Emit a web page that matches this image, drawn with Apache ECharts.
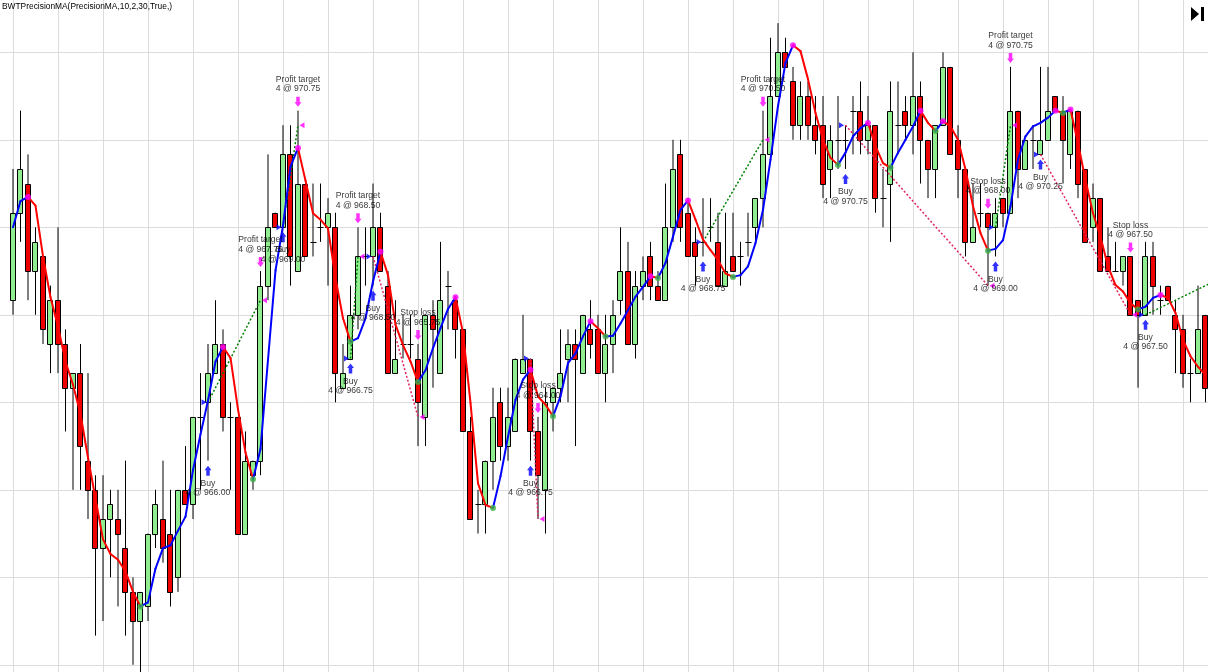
<!DOCTYPE html>
<html>
<head>
<meta charset="utf-8">
<title>BWTPrecisionMA</title>
<script src="https://cdn.jsdelivr.net/npm/echarts@6/dist/echarts.min.js"></script>
<style>
  html, body { margin: 0; padding: 0; background: #fff; }
  #chart { width: 1208px; height: 672px; }
</style>
</head>
<body>
<div id="chart"></div>
<script>
// price bars, one value per bar index (0 = leftmost bar)
var opens = [
  967.75, 969.25, 969.75, 968.25, 968.5, 967.0, 967.75, 967.0, 966.25, 966.5,
  965.0, 964.5, 963.5, 964.0, 964.0, 963.5, 962.75, 962.25, 962.5, 963.75,
  964.0, 963.75, 963.0, 964.5, 964.25, 965.75, 966.0, 966.5, 967.0, 965.75,
  965.75, 963.75, 964.75, 965.0, 968.0, 969.25, 969.0, 970.25, 968.25, 969.75,
  968.75, 969.0, 969.0, 969.0, 966.25, 966.75, 967.5, 968.5, 968.5, 969.0,
  968.0, 966.5, 967.0, 967.0, 966.75, 965.75, 967.5, 966.5, 968.0, 967.75,
  967.25, 965.5, 964.25, 964.25, 965.0, 966.0, 965.25, 965.5, 966.5, 966.75,
  965.5, 964.5, 966.0, 966.25, 966.75, 967.0, 966.5, 967.25, 967.25, 966.5,
  967.0, 967.75, 968.25, 967.0, 968.0, 968.5, 968.0, 967.75, 969.0, 970.25,
  969.25, 968.75, 968.75, 969.0, 968.75, 968.0, 968.5, 968.5, 968.75, 969.0,
  969.5, 970.25, 971.25, 972.0, 971.5, 970.75, 971.25, 970.75, 970.75, 970.0,
  970.5, 970.5, 971.0, 971.0, 970.5, 970.75, 969.5, 969.75, 970.75, 971.0,
  970.75, 971.25, 970.5, 970.0, 970.75, 971.75, 970.5, 970.0, 968.75, 969.25,
  969.25, 969.0, 969.5, 969.25, 971.0, 970.0, 970.5, 970.25, 970.5, 971.25,
  971.0, 970.25, 971.0, 970.0, 969.0, 969.5, 968.5, 968.25, 968.25, 968.5,
  967.75, 967.5, 968.5, 967.75, 968.0, 967.5, 967.25, 966.5, 966.5, 967.5
];
var highs = [
  970.0, 971.0, 970.25, 969.0, 968.5, 968.0, 969.0, 967.25, 966.5, 967.0,
  966.5, 964.75, 964.75, 964.5, 964.5, 965.0, 963.0, 962.75, 963.75, 964.5,
  965.0, 964.5, 964.5, 965.25, 965.75, 966.5, 967.0, 967.75, 967.25, 966.0,
  965.75, 965.5, 965.0, 968.25, 970.25, 969.25, 970.75, 970.75, 971.0, 969.75,
  969.75, 969.75, 969.5, 969.25, 967.0, 968.0, 969.0, 969.0, 969.75, 969.25,
  968.25, 967.75, 967.5, 967.5, 967.0, 967.5, 967.75, 968.75, 968.25, 967.75,
  967.25, 965.75, 964.5, 965.0, 966.25, 966.25, 966.25, 966.75, 967.5, 966.75,
  965.75, 966.25, 966.25, 967.25, 967.25, 967.25, 967.5, 967.75, 967.5, 967.5,
  967.75, 969.0, 968.75, 968.25, 968.5, 968.75, 968.25, 969.75, 970.5, 970.5,
  969.5, 969.0, 969.5, 969.5, 969.25, 969.25, 969.25, 968.75, 969.25, 969.5,
  971.0, 972.25, 972.5, 972.25, 971.75, 971.5, 971.5, 971.25, 971.25, 970.75,
  971.25, 970.75, 971.25, 971.5, 971.25, 970.75, 970.0, 971.5, 971.5, 971.25,
  972.0, 971.5, 970.5, 970.75, 972.0, 971.75, 970.75, 970.0, 969.75, 969.75,
  969.25, 969.5, 969.5, 971.75, 971.0, 970.5, 970.75, 971.75, 971.75, 971.25,
  971.25, 971.0, 971.0, 970.0, 969.75, 969.5, 969.0, 968.75, 968.5, 968.5,
  967.75, 968.75, 968.75, 968.0, 968.0, 967.75, 967.5, 966.75, 968.0, 967.5
];
var lows = [
  967.5, 968.75, 967.75, 967.5, 967.0, 966.5, 966.5, 965.5, 964.5, 964.5,
  964.0, 962.0, 962.25, 963.0, 962.5, 962.0, 961.5, 961.25, 962.25, 963.5,
  963.25, 962.5, 962.75, 964.25, 964.0, 964.5, 965.0, 966.5, 965.5, 964.5,
  963.75, 963.75, 964.5, 964.75, 967.75, 969.0, 969.0, 968.0, 968.25, 968.5,
  968.5, 968.75, 968.0, 966.0, 966.25, 966.75, 967.25, 968.0, 968.0, 968.25,
  966.5, 966.5, 966.75, 966.75, 965.25, 965.25, 966.25, 966.5, 967.25, 966.75,
  965.5, 964.0, 963.75, 963.75, 964.5, 965.0, 965.0, 965.5, 966.5, 965.0,
  964.0, 963.75, 965.5, 966.0, 966.0, 965.25, 966.5, 966.75, 966.5, 966.0,
  966.5, 967.5, 967.0, 966.75, 967.75, 967.75, 967.75, 967.75, 968.75, 968.75,
  968.5, 968.0, 968.5, 968.75, 968.0, 968.0, 968.25, 968.0, 968.5, 968.75,
  969.0, 970.25, 971.25, 971.75, 970.5, 970.5, 970.5, 970.25, 969.5, 969.5,
  970.0, 970.0, 970.25, 970.25, 970.25, 969.25, 969.0, 968.75, 970.25, 970.5,
  970.25, 969.75, 969.5, 969.5, 970.75, 970.25, 969.5, 968.5, 968.75, 969.0,
  968.0, 968.5, 969.0, 969.25, 969.5, 970.0, 970.0, 970.25, 970.5, 971.0,
  969.75, 970.0, 969.5, 968.75, 968.75, 968.25, 968.25, 968.25, 968.0, 967.5,
  966.25, 967.5, 967.5, 967.5, 967.75, 966.5, 966.25, 966.0, 966.5, 966.0
];
var closes = [
  969.25, 970.0, 968.25, 968.75, 967.25, 967.75, 967.0, 966.25, 966.5, 965.25,
  964.5, 963.5, 964.0, 964.25, 963.75, 962.75, 962.25, 962.75, 963.75, 964.25,
  963.5, 962.75, 964.5, 964.25, 965.75, 965.75, 966.5, 967.0, 965.75, 965.75,
  963.75, 965.0, 965.0, 968.0, 969.0, 969.0, 970.25, 968.5, 969.75, 968.5,
  968.75, 969.0, 969.25, 966.5, 966.5, 967.5, 968.5, 968.5, 969.0, 968.25,
  966.5, 966.75, 967.0, 967.0, 966.0, 967.5, 967.25, 967.75, 968.0, 967.25,
  965.5, 964.0, 964.25, 965.0, 965.75, 965.25, 965.75, 966.75, 966.75, 965.5,
  964.75, 966.0, 966.25, 966.5, 967.0, 966.75, 967.5, 967.0, 966.5, 967.0,
  967.5, 968.25, 967.0, 968.0, 968.25, 968.0, 967.75, 969.0, 970.0, 969.0,
  968.5, 968.5, 968.75, 969.0, 968.0, 968.25, 968.25, 968.5, 968.75, 969.5,
  970.25, 971.25, 972.0, 971.75, 970.75, 971.25, 970.75, 970.5, 969.75, 970.5,
  970.5, 970.5, 971.0, 970.5, 970.75, 969.5, 969.5, 971.0, 970.75, 970.75,
  971.25, 970.5, 970.0, 970.75, 971.75, 970.25, 970.0, 968.75, 969.0, 969.25,
  969.0, 969.25, 969.25, 971.0, 970.0, 970.5, 970.5, 970.5, 971.0, 971.0,
  970.5, 971.0, 969.75, 968.75, 969.5, 968.25, 968.25, 968.25, 968.5, 967.5,
  967.5, 968.5, 968.0, 967.75, 967.75, 967.25, 966.5, 966.5, 967.25, 966.25
];
// PrecisionMA(10,2,30) value at each bar
var maValues = [
  969.0, 969.45, 969.52, 969.37, 968.5, 967.8, 967.3, 966.7, 966.3, 965.8,
  965.05, 964.35, 963.65, 963.4, 963.3, 963.1, 962.75, 962.5, 962.57, 963.15,
  963.5, 963.55, 963.8, 964.04, 964.84, 965.45, 966.03, 966.7, 966.95, 966.76,
  965.88, 965.14, 964.68, 965.2, 966.73, 968.26, 969.03, 970.04, 970.36, 969.8,
  969.24, 969.13, 968.98, 968.13, 967.44, 967.04, 967.1, 967.44, 968.07, 968.58,
  968.18, 967.33, 966.98, 966.7, 966.35, 966.55, 966.93, 967.27, 967.6, 967.8,
  967.19, 965.99, 964.61, 964.24, 964.19, 964.73, 965.41, 966.04, 966.39, 966.56,
  966.1, 965.96, 965.76, 966.1, 966.67, 966.84, 967.13, 967.39, 967.27, 967.13,
  967.14, 967.35, 967.58, 967.81, 967.98, 968.16, 968.13, 968.39, 968.84, 969.3,
  969.46, 969.13, 968.79, 968.61, 968.44, 968.21, 968.15, 968.18, 968.33, 968.73,
  969.3, 970.16, 971.08, 971.82, 972.12, 972.02, 971.54, 970.96, 970.5, 970.19,
  970.07, 970.28, 970.56, 970.7, 970.79, 970.39, 970.1, 970.02, 970.28, 970.5,
  970.73, 971.0, 970.79, 970.65, 970.82, 970.73, 970.5, 969.99, 969.36, 968.9,
  968.6, 968.63, 968.78, 969.36, 970.16, 970.56, 970.73, 970.79, 970.88, 971.0,
  970.96, 971.02, 970.44, 969.81, 969.24, 968.84, 968.33, 968.01, 967.9, 967.7,
  967.59, 967.64, 967.79, 967.84, 967.79, 967.53, 967.07, 966.79, 966.61, 966.47
];

// executions (long only)
var entryBars = [26, 36, 45, 48, 69, 92, 111, 131, 137, 151];
var entryPrices = [966.00, 969.00, 966.75, 968.50, 966.75, 968.75, 970.75, 969.00, 970.25, 967.50];
var exitBars = [33, 38, 46, 54, 70, 100, 130, 133, 149, null];
var exitPrices = [967.75, 970.75, 968.50, 965.75, 964.00, 970.50, 968.00, 970.75, 967.50, null];
var exitNames = ['Profit target', 'Profit target', 'Profit target', 'Stop loss', 'Stop loss',
  'Profit target', 'Stop loss', 'Profit target', 'Stop loss', null];
var quantity = 4;
// the last trade is still open, its line runs off the right edge toward this point
var openTradeEnd = [175, 969.0];

var FONT = "'Liberation Sans', Arial, sans-serif";

var barData = opens.map(function (o, i) {
  return [i, o, closes[i], lows[i], highs[i]];
});

var maSegments = [];
for (var i = 0; i < maValues.length - 1; i++) {
  maSegments.push([i, maValues[i], i + 1, maValues[i + 1]]);
}
var maPeaks = [];
var maTroughs = [];
for (i = 1; i < maValues.length - 1; i++) {
  if (maValues[i] > maValues[i - 1] && maValues[i] >= maValues[i + 1]) maPeaks.push([i, maValues[i]]);
  else if (maValues[i] < maValues[i - 1] && maValues[i] <= maValues[i + 1]) maTroughs.push([i, maValues[i]]);
}

var tradeLines = entryBars.map(function (b, k) {
  var xb = exitBars[k] != null ? exitBars[k] : openTradeEnd[0];
  var xp = exitPrices[k] != null ? exitPrices[k] : openTradeEnd[1];
  return [b, entryPrices[k], xb, xp];
});

var buyMarks = entryBars.map(function (b, k) {
  return { value: [b, lows[b]], text: 'Buy\n' + quantity + ' @ ' + entryPrices[k].toFixed(2) };
});
var entryMarks = entryBars.map(function (b, k) { return [b, entryPrices[k]]; });
var exitMarks = [];
var exitFills = [];
exitBars.forEach(function (b, k) {
  if (b == null) return;
  exitMarks.push({ value: [b, highs[b]], text: exitNames[k] + '\n' + quantity + ' @ ' + exitPrices[k].toFixed(2) });
  exitFills.push([b, exitPrices[k]]);
});

function renderBar(params, api) {
  var idx = api.value(0);
  var o = api.value(1), c = api.value(2);
  var pH = api.coord([idx, api.value(4)]);
  var pL = api.coord([idx, api.value(3)]);
  var pO = api.coord([idx, o]);
  var pC = api.coord([idx, c]);
  var x = pH[0];
  var left = Math.floor(x) - 2.5;
  var kids = [{
    type: 'line',
    shape: { x1: x, y1: pH[1], x2: x, y2: pL[1] },
    style: { stroke: '#000', lineWidth: 1 }
  }];
  var top = Math.round(Math.min(pO[1], pC[1])) + 0.5;
  var bot = Math.round(Math.max(pO[1], pC[1])) + 0.5;
  if (bot - top < 1) {
    kids.push({
      type: 'line',
      shape: { x1: left, y1: top, x2: left + 6, y2: top },
      style: { stroke: '#000', lineWidth: 1 }
    });
  } else {
    kids.push({
      type: 'rect',
      shape: { x: left, y: top, width: 5, height: bot - top },
      style: { fill: c > o ? '#90ee90' : '#ee0000', stroke: '#000', lineWidth: 1 }
    });
  }
  return { type: 'group', children: kids };
}

var upArrow = 'path://M3,0 L6,4.5 L4.5,4.5 L4.5,10 L1.5,10 L1.5,4.5 L0,4.5 Z';
var downArrow = 'path://M1.5,0 L4.5,0 L4.5,5.5 L6,5.5 L3,10 L0,5.5 L1.5,5.5 Z';

var chart = echarts.init(document.getElementById('chart'));
chart.setOption({
  animation: false,
  backgroundColor: '#fff',
  title: {
    text: 'BWTPrecisionMA(PrecisionMA,10,2,30,True,)',
    left: 2,
    top: 3,
    padding: 0,
    textStyle: { fontSize: 8.4, fontWeight: 'normal', color: '#000', fontFamily: FONT }
  },
  // the plot area runs past the window edges, so bars line up with the grid
  grid: { left: -32, right: -20, top: -35.2, bottom: -80.3, outerBoundsMode: 'none', containLabel: false },
  xAxis: {
    type: 'value',
    min: -6,
    max: 162,
    interval: 6,
    axisLine: { show: false },
    axisTick: { show: false },
    axisLabel: { show: false },
    splitLine: { show: true, lineStyle: { color: '#dcdcdc', width: 1 } }
  },
  yAxis: {
    type: 'value',
    min: 960,
    max: 973.5,
    interval: 1.5,
    axisLine: { show: false },
    axisTick: { show: false },
    axisLabel: { show: false },
    splitLine: { show: true, lineStyle: { color: '#dcdcdc', width: 1 } }
  },
  graphic: [
    { type: 'polygon', shape: { points: [[1191, 7], [1191, 21], [1199, 14]] }, style: { fill: '#000' } },
    { type: 'rect', shape: { x: 1201, y: 7, width: 3, height: 14 }, style: { fill: '#000' } }
  ],
  series: [
    {
      name: 'bars',
      type: 'custom',
      renderItem: renderBar,
      encode: { x: 0, y: [1, 2, 3, 4] },
      data: barData,
      z: 2
    },
    {
      name: 'trades',
      type: 'custom',
      renderItem: function (params, api) {
        var a = api.coord([api.value(0), api.value(1)]);
        var b = api.coord([api.value(2), api.value(3)]);
        var win = api.value(3) > api.value(1);
        return {
          type: 'line',
          shape: { x1: a[0], y1: a[1], x2: b[0], y2: b[1] },
          style: { stroke: win ? '#008000' : '#e0245e', lineWidth: 1.5, lineDash: [2, 2] }
        };
      },
      encode: { x: [0, 2], y: [1, 3] },
      data: tradeLines,
      z: 3
    },
    {
      name: 'PrecisionMA',
      type: 'custom',
      renderItem: function (params, api) {
        var a = api.coord([api.value(0), api.value(1)]);
        var b = api.coord([api.value(2), api.value(3)]);
        return {
          type: 'line',
          shape: { x1: a[0], y1: a[1], x2: b[0], y2: b[1] },
          style: { stroke: api.value(3) >= api.value(1) ? '#0000ff' : '#ff0000', lineWidth: 2, lineCap: 'round' }
        };
      },
      encode: { x: [0, 2], y: [1, 3] },
      data: maSegments,
      z: 4
    },
    {
      name: 'ma peaks',
      type: 'scatter',
      symbol: 'circle',
      symbolSize: 6,
      itemStyle: { color: '#ff00ff' },
      data: maPeaks,
      z: 5
    },
    {
      name: 'ma troughs',
      type: 'scatter',
      symbol: 'circle',
      symbolSize: 6,
      itemStyle: { color: '#3cb043' },
      data: maTroughs,
      z: 5
    },
    {
      name: 'entry fills',
      type: 'scatter',
      symbol: 'triangle',
      symbolSize: [6, 5],
      symbolRotate: -90,
      symbolOffset: [-4, 0],
      itemStyle: { color: '#0000ff' },
      data: entryMarks,
      z: 6
    },
    {
      name: 'exit fills',
      type: 'scatter',
      symbol: 'triangle',
      symbolSize: [6, 5],
      symbolRotate: 90,
      symbolOffset: [4, 0],
      itemStyle: { color: '#ff00ff' },
      data: exitFills,
      z: 6
    },
    {
      name: 'buy',
      type: 'scatter',
      symbol: upArrow,
      symbolSize: [7, 10],
      symbolOffset: [0, 10],
      itemStyle: { color: '#0000ff' },
      label: {
        show: true,
        position: 'bottom',
        distance: 3,
        formatter: function (p) { return p.data.text; },
        fontSize: 8.6,
        lineHeight: 9.5,
        color: '#000',
        fontFamily: FONT
      },
      data: buyMarks,
      z: 7
    },
    {
      name: 'exit',
      type: 'scatter',
      symbol: downArrow,
      symbolSize: [7, 10],
      symbolOffset: [0, -9],
      itemStyle: { color: '#ff00ff' },
      label: {
        show: true,
        position: 'top',
        distance: 3,
        formatter: function (p) { return p.data.text; },
        fontSize: 8.6,
        lineHeight: 9.5,
        color: '#000',
        fontFamily: FONT
      },
      data: exitMarks,
      z: 7
    }
  ]
});
</script>
</body>
</html>
